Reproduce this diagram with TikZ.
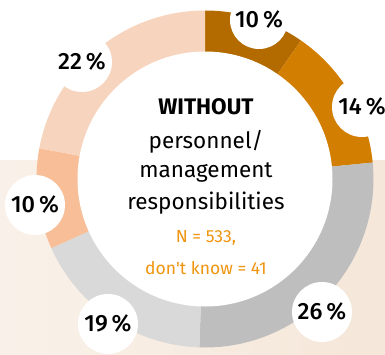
\documentclass[tikz,border=0pt]{standalone}
\usepackage{fontspec}
\setmainfont{Fira Sans}
\newfontfamily\medfont{Fira Sans Medium}
\definecolor{cdark}{HTML}{B36B00}
\definecolor{corange}{HTML}{D27E00}
\definecolor{cgray}{HTML}{BEBEBE}
\definecolor{clgray}{HTML}{D9D9D9}
\definecolor{cpeach}{HTML}{F7BE98}
\definecolor{clpeach}{HTML}{F7D4BE}
\definecolor{cbandl}{HTML}{F9F1E9}
\definecolor{cbandr}{HTML}{F5E7D9}
\definecolor{ctext}{HTML}{F0950F}
\tikzset{
  pct/.style={circle,fill=white,minimum size=60pt,inner sep=0pt,font=\fontsize{23.5}{27}\medfont,text=black},
  ctr/.style={font=\fontsize{22.5}{27}\selectfont,text=black},
  sub/.style={font=\fontsize{17.5}{21}\selectfont,text=ctext},
}
\newcommand{\ringseg}[3]{\fill[#1] (205,175) -- ++(#2:168.5) arc[start angle=#2,end angle=#3,radius=168.5] -- cycle;}
\begin{document}
\begin{tikzpicture}[x=1pt,y=1pt]
\useasboundingbox (0,0) rectangle (385,354);
\fill[white] (0,0) rectangle (385,354);
\shade[left color=cbandl,right color=cbandr] (0,0) rectangle (385,194);
\ringseg{cdark}{90}{55.3}
\ringseg{corange}{55.3}{5.6}
\ringseg{cgray}{5.6}{-91.9}
\ringseg{clgray}{-91.9}{-155.8}
\ringseg{cpeach}{-155.8}{-190.5}
\ringseg{clpeach}{-190.5}{-270}
\fill[white] (205,175) circle[radius=127.5];
\node[pct,minimum size=58pt] (p1) at (259,334) {10\,\%};
\node[pct] (p2) at (362,247) {14\,\%};
\node[pct] (p3) at (322,42) {26\,\%};
\node[pct] (p4) at (108,30) {19\,\%};
\node[pct] (p5) at (35,149) {10\,\%};
\node[pct] (p6) at (82,292) {22\,\%};
\node[ctr,font=\fontsize{22.5}{27}\selectfont\bfseries] (t1) at (206,247) {WITHOUT};
\node[ctr] (t2) at (206,212) {personnel/};
\node[ctr] (t3) at (206,181) {management};
\node[ctr] (t4) at (206,151) {responsibilities};
\node[sub] (t5) at (206,116) {N = 533,};
\node[sub] (t6) at (206,86) {don\textquotesingle t know = 41};
\end{tikzpicture}
\end{document}
